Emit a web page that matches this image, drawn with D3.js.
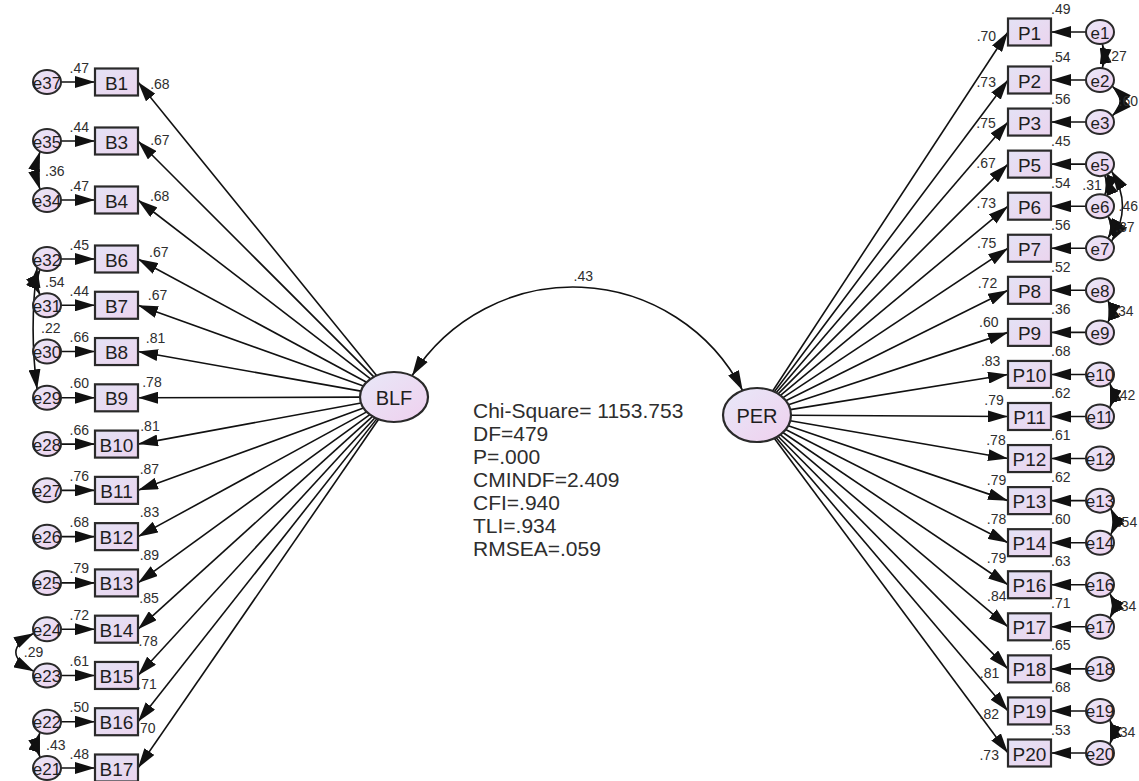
<!DOCTYPE html>
<html>
<head>
<meta charset="utf-8">
<script src="https://cdn.jsdelivr.net/npm/d3@7"></script>
<style>
  body { margin: 0; background: #fff; }
  svg text { font-family: "Liberation Sans", Arial, sans-serif; }
</style>
</head>
<body>
<svg id="chart" width="1139" height="781"></svg>
<script>
// ---- data ----
const blfItems = ['B1', 'B3', 'B4', 'B6', 'B7', 'B8', 'B9', 'B10', 'B11', 'B12', 'B13', 'B14', 'B15', 'B16', 'B17'];
const blfErrors = ['e37', 'e35', 'e34', 'e32', 'e31', 'e30', 'e29', 'e28', 'e27', 'e26', 'e25', 'e24', 'e23', 'e22', 'e21'];
const blfLoadings = [0.68, 0.67, 0.68, 0.67, 0.67, 0.81, 0.78, 0.81, 0.87, 0.83, 0.89, 0.85, 0.78, 0.71, 0.70];
const blfR2 = [0.47, 0.44, 0.47, 0.45, 0.44, 0.66, 0.60, 0.66, 0.76, 0.68, 0.79, 0.72, 0.61, 0.50, 0.48];

const perItems = ['P1', 'P2', 'P3', 'P5', 'P6', 'P7', 'P8', 'P9', 'P10', 'P11', 'P12', 'P13', 'P14', 'P16', 'P17', 'P18', 'P19', 'P20'];
const perErrors = ['e1', 'e2', 'e3', 'e5', 'e6', 'e7', 'e8', 'e9', 'e10', 'e11', 'e12', 'e13', 'e14', 'e16', 'e17', 'e18', 'e19', 'e20'];
const perLoadings = [0.70, 0.73, 0.75, 0.67, 0.73, 0.75, 0.72, 0.60, 0.83, 0.79, 0.78, 0.79, 0.78, 0.79, 0.84, 0.81, 0.82, 0.73];
const perR2 = [0.49, 0.54, 0.56, 0.45, 0.54, 0.56, 0.52, 0.36, 0.68, 0.62, 0.61, 0.62, 0.60, 0.63, 0.71, 0.65, 0.68, 0.53];

const leftCovs = [['e35', 'e34', 0.36], ['e32', 'e31', 0.54], ['e32', 'e29', 0.22], ['e24', 'e23', 0.29], ['e22', 'e21', 0.43]];
const rightCovs = [['e1', 'e2', 0.27], ['e2', 'e3', 0.60], ['e5', 'e6', 0.31], ['e6', 'e7', 0.37], ['e5', 'e7', 0.46],
  ['e8', 'e9', 0.34], ['e10', 'e11', 0.42], ['e13', 'e14', 0.54], ['e16', 'e17', 0.34], ['e19', 'e20', 0.34]];

const factorCorr = 0.43;
const fitLines = ['Chi-Square= 1153.753', 'DF=479', 'P=.000', 'CMINDF=2.409', 'CFI=.940', 'TLI=.934', 'RMSEA=.059'];

// ---- layout ----
const W = 1139;
const leftY = d3.scaleLinear().domain([0, 3, 14]).range([82, 259, 768]);
const rightY = d3.scaleLinear().domain([0, 1, 17]).range([32, 80, 753]);
const leftBox = { x: 95, w: 43, h: 27 };
const rightBox = { x: 1008, w: 43, h: 27 };
const err = { rx: 14, ry: 12, leftX: 47, rightX: 1100 };
const blf = { cx: 394, cy: 397, rx: 34, ry: 25 };
const per = { cx: 757, cy: 415, rx: 34, ry: 27 };
// curve shape per covariance: [angle from vertical, bulge, label inside?]
const leftCovShape = [[30, 3], [30, 3], [45, 4], [70, 18], [30, 2]];
const rightCovShape = [[10, 1], [60, 8], [20, 2, true], [35, 3], [55, 11], [35, 2], [45, 2], [50, 3], [45, 3], [45, 2]];

const fmt = v => d3.format('.2f')(v).replace(/^0/, '');
const ink = '#111';
const textCol = '#2e2e2e';

const svg = d3.select('#chart');
const defs = svg.append('defs');

const gradient = (id, c0, c1) => {
  const g = defs.append('linearGradient').attr('id', id)
    .attr('x1', '0%').attr('y1', '0%').attr('x2', '100%').attr('y2', '100%');
  g.append('stop').attr('offset', '0%').attr('stop-color', c0);
  g.append('stop').attr('offset', '100%').attr('stop-color', c1);
};
gradient('obsFill', '#e4e2f5', '#ebd4ee');
gradient('latFill', '#e8e8f8', '#efd0ee');

defs.append('marker').attr('id', 'head')
  .attr('viewBox', '0 0 20 12').attr('refX', 20).attr('refY', 6)
  .attr('markerWidth', 20).attr('markerHeight', 12)
  .attr('markerUnits', 'userSpaceOnUse').attr('orient', 'auto-start-reverse')
  .append('path').attr('d', 'M0,0L20,6L0,12Z').attr('fill', ink);

const edgePoint = (e, target) => {
  const dx = target[0] - e.cx;
  const dy = target[1] - e.cy;
  const t = 1 / Math.sqrt((dx * dx) / (e.rx * e.rx) + (dy * dy) / (e.ry * e.ry));
  return [e.cx + dx * t, e.cy + dy * t];
};

// label near the arrow head, offset to the upper side of the line
const placeLabel = (head, tail, flip) => {
  const len = Math.hypot(tail[0] - head[0], tail[1] - head[1]);
  const u = [(tail[0] - head[0]) / len, (tail[1] - head[1]) / len];
  let n = [u[1], -u[0]];
  if (n[1] > 0) n = [-n[0], -n[1]];
  if (flip) n = [-n[0], -n[1]];
  const d = flip ? 10 : (u[1] < 0 ? 14 + 34 * u[1] * u[1] : 15);
  return [head[0] + d * u[0] + 16 * n[0], head[1] + d * u[1] + 16 * n[1]];
};

const gLines = svg.append('g');
const gShapes = svg.append('g');
const gText = svg.append('g');

const numLabel = (x, y, txt, anchor, baseline) => gText.append('text')
  .attr('x', x).attr('y', y)
  .attr('text-anchor', anchor || 'middle')
  .attr('dominant-baseline', baseline || 'central')
  .attr('font-size', 14).attr('fill', textCol)
  .text(txt);

const arrow = (a, b) => gLines.append('line')
  .attr('x1', a[0]).attr('y1', a[1]).attr('x2', b[0]).attr('y2', b[1])
  .attr('stroke', ink).attr('stroke-width', 1.6)
  .attr('marker-end', 'url(#head)');

const nodeText = (x, y, txt, size) => gText.append('text').attr('x', x).attr('y', y)
  .attr('text-anchor', 'middle').attr('dominant-baseline', 'central')
  .attr('font-size', size).attr('fill', '#1e1e1e').text(txt);

const errPos = {};

// ---- BLF side ----
blfItems.forEach((name, i) => {
  const y = leftY(i);
  const head = [leftBox.x + leftBox.w, y];
  const tail = edgePoint(blf, head);
  arrow(tail, head);
  const lp = placeLabel(head, tail, false);
  numLabel(lp[0], lp[1], fmt(blfLoadings[i]));

  errPos[blfErrors[i]] = [err.leftX, y];
  arrow([err.leftX + err.rx, y], [leftBox.x, y]);
  numLabel(leftBox.x - 6, y - leftBox.h / 2 + 4, fmt(blfR2[i]), 'end', 'auto');

  gShapes.append('rect')
    .attr('x', leftBox.x).attr('y', y - leftBox.h / 2)
    .attr('width', leftBox.w).attr('height', leftBox.h)
    .attr('fill', 'url(#obsFill)').attr('stroke', '#2a2a2a').attr('stroke-width', 2.2);
  nodeText(leftBox.x + leftBox.w / 2, y + 1, name, 19);
});

// ---- PER side ----
perItems.forEach((name, i) => {
  const y = rightY(i);
  const head = [rightBox.x, y];
  const tail = edgePoint(per, head);
  arrow(tail, head);
  const u = (tail[1] - head[1]) / Math.hypot(tail[0] - head[0], tail[1] - head[1]);
  const lp = placeLabel(head, tail, u < -0.68);
  numLabel(lp[0], lp[1], fmt(perLoadings[i]));

  errPos[perErrors[i]] = [err.rightX, y];
  arrow([err.rightX - err.rx, y], [rightBox.x + rightBox.w, y]);
  numLabel(rightBox.x + rightBox.w, y - rightBox.h / 2 - 5, fmt(perR2[i]), 'start', 'auto');

  gShapes.append('rect')
    .attr('x', rightBox.x).attr('y', y - rightBox.h / 2)
    .attr('width', rightBox.w).attr('height', rightBox.h)
    .attr('fill', 'url(#obsFill)').attr('stroke', '#2a2a2a').attr('stroke-width', 2.2);
  nodeText(rightBox.x + rightBox.w / 2, y + 1, name, 19);
});

// ---- error covariances ----
const drawCov = (cov, shape, s) => {
  let ca = errPos[cov[0]];
  let cb = errPos[cov[1]];
  if (ca[1] > cb[1]) [ca, cb] = [cb, ca];
  const r = (shape[0] * Math.PI) / 180;
  const p1 = [ca[0] + s * err.rx * Math.sin(r), ca[1] + err.ry * Math.cos(r)];
  const p2 = [cb[0] + s * err.rx * Math.sin(r), cb[1] - err.ry * Math.cos(r)];
  const mx = (p1[0] + p2[0]) / 2;
  const my = (p1[1] + p2[1]) / 2;
  const c = [mx + s * 2 * shape[1], my];
  gLines.append('path')
    .attr('d', `M${p1[0]},${p1[1]}Q${c[0]},${c[1]} ${p2[0]},${p2[1]}`)
    .attr('fill', 'none').attr('stroke', ink).attr('stroke-width', 1.6)
    .attr('marker-start', 'url(#head)').attr('marker-end', 'url(#head)');
  const peak = mx + s * shape[1];
  let t;
  if (s < 0) {
    t = numLabel(peak + 8, my, fmt(cov[2]), 'start');
  } else if (shape[2]) {
    t = numLabel(peak - 5, my, fmt(cov[2]), 'end');
  } else {
    t = numLabel(peak + 4, my, fmt(cov[2]), 'start');
    // keep labels at the right margin inside the picture
    const wText = t.node().getComputedTextLength();
    if (peak + 4 + wText > W - 1) t.attr('x', W - 1 - wText);
  }
};
leftCovs.forEach((c, i) => drawCov(c, leftCovShape[i], -1));
rightCovs.forEach((c, i) => drawCov(c, rightCovShape[i], 1));

// ---- error terms ----
Object.entries(errPos).forEach(([name, p]) => {
  gShapes.append('ellipse').attr('cx', p[0]).attr('cy', p[1])
    .attr('rx', err.rx).attr('ry', err.ry)
    .attr('fill', 'url(#latFill)').attr('stroke', '#2a2a2a').attr('stroke-width', 2);
  nodeText(p[0], p[1] + 1, name, 17);
});

// ---- latent factors and their correlation ----
const a = [blf.cx + blf.rx * Math.cos(-58 * Math.PI / 180), blf.cy + blf.ry * Math.sin(-58 * Math.PI / 180)];
const b = [per.cx + per.rx * Math.cos(-115 * Math.PI / 180), per.cy + per.ry * Math.sin(-115 * Math.PI / 180)];
const chord = Math.hypot(b[0] - a[0], b[1] - a[1]);
const sag = 96;
const radius = (chord * chord / 4 + sag * sag) / (2 * sag);
gLines.append('path')
  .attr('d', `M${a[0]},${a[1]}A${radius},${radius} 0 0 1 ${b[0]},${b[1]}`)
  .attr('fill', 'none').attr('stroke', ink).attr('stroke-width', 1.6)
  .attr('marker-start', 'url(#head)').attr('marker-end', 'url(#head)');
numLabel((a[0] + b[0]) / 2 + 6, (a[1] + b[1]) / 2 - sag - 11, fmt(factorCorr));

[[blf, 'BLF'], [per, 'PER']].forEach(([e, name]) => {
  gShapes.append('ellipse').attr('cx', e.cx).attr('cy', e.cy)
    .attr('rx', e.rx).attr('ry', e.ry)
    .attr('fill', 'url(#latFill)').attr('stroke', '#2a2a2a').attr('stroke-width', 2.2);
  nodeText(e.cx, e.cy + 1, name, 20);
});

// ---- fit statistics ----
gText.selectAll('.fit').data(fitLines).enter().append('text')
  .attr('class', 'fit')
  .attr('x', 473).attr('y', (d, i) => 418 + i * 23)
  .attr('font-size', 21).attr('fill', textCol)
  .text(d => d);
</script>
</body>
</html>
